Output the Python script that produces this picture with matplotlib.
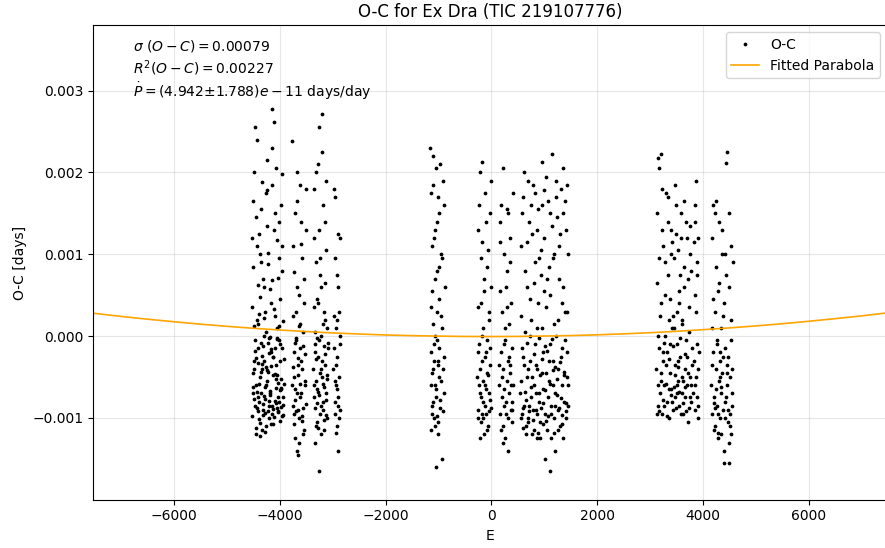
import numpy as np
import matplotlib
matplotlib.use('Agg')
import matplotlib.pyplot as plt

# O-C points, grouped by observing block
# each entry: (epoch E, O-C in units of 1e-5 days)
BLOCK_1 = [
    (-4512, -62), (-4488, 12), (-4463, -85), (-4441, 145), (-4420, -33), (-4397, -101), (-4375, 48), (-4352, -70), (-4330, 188), (-4308, -12),
    (-4285, -94), (-4262, 5), (-4240, -55), (-4218, 102), (-4195, -79), (-4172, -20), (-4150, 230), (-4128, -108), (-4106, 33), (-4083, -46),
    (-4061, -88), (-4038, 71), (-4016, -5), (-3994, -66), (-3972, 160), (-3950, -98), (-3928, -28), (-4505, 85), (-4481, -40), (-4458, -112),
    (-4436, 20), (-4413, -74), (-4390, 125), (-4368, -50), (-4345, -9), (-4323, -90), (-4300, 60), (-4278, -117), (-4256, -38), (-4233, 178),
    (-4210, -2), (-4188, -69), (-4165, 40), (-4143, -95), (-4121, -25), (-4098, 150), (-4076, -82), (-4054, 10), (-4031, -57), (-4009, 95),
    (-3987, -104), (-3965, -15), (-3943, -75), (-4524, -98), (-4499, 165), (-4476, -18), (-4452, -60), (-4430, 110), (-4407, -92), (-4385, 27),
    (-4362, -44), (-4340, -115), (-4317, 70), (-4295, -30), (-4272, -77), (-4250, 215), (-4227, -8), (-4205, -100), (-4182, 58), (-4160, -36),
    (-4137, -86), (-4115, 130), (-4092, -14), (-4070, -64), (-4048, -4), (-4025, -93), (-4003, 45), (-3981, -52), (-3959, 198), (-3937, -84),
    (-4518, 35), (-4494, -77), (-4470, 255), (-4447, -27), (-4425, -68), (-4402, 15), (-4380, -106), (-4357, 90), (-4335, -40), (-4312, -83),
    (-4290, 0), (-4267, -60), (-4245, 135), (-4222, -91), (-4200, -21), (-4177, -72), (-4155, 278), (-4132, -47), (-4110, -99), (-4087, 25),
    (-4065, -35), (-4043, 118), (-4020, -80), (-3998, -10), (-3976, -63), (-3954, 80), (-3932, -96), (-4509, -45), (-4485, 200), (-4460, -5),
    (-4438, -88), (-4416, 62), (-4393, -58), (-4371, -122), (-4348, 155), (-4326, -24), (-4303, -73), (-4281, 30), (-4258, -110), (-4236, -42),
    (-4213, 88), (-4191, -67), (-4168, -16), (-4146, 185), (-4124, -89), (-4101, 262), (-4079, -53), (-4057, -2), (-4034, -75), (-4012, 140),
    (-3990, -30), (-3968, -87), (-3946, 18), (-3925, -59), (-4527, 120), (-4502, -70), (-4479, -30), (-4455, -120), (-4433, 240), (-4410, -15),
    (-4388, -81), (-4365, 100), (-4343, -34), (-4320, -97), (-4298, 22), (-4275, -62), (-4253, 175), (-4230, -44), (-4208, -85), (-4186, -1),
    (-4163, -107), (-4141, 68), (-4119, -26), (-4096, -79), (-4074, 205), (-4052, -48), (-4029, -92), (-4007, 12), (-3985, -65), (-3963, 110),
]
BLOCK_2 = [
    (-3765, -60), (-3752, 25), (-3740, -95), (-3728, -20), (-3716, 150), (-3703, -78), (-3691, -5), (-3679, -140), (-3667, 60), (-3655, -48),
    (-3642, -100), (-3630, 12), (-3618, 185), (-3606, -70), (-3594, -30), (-3581, 95), (-3569, -88), (-3557, -12), (-3545, -115), (-3533, 40),
    (-3520, -55), (-3508, 130), (-3496, -83), (-3760, 238), (-3747, -38), (-3735, -108), (-3722, 78), (-3710, -65), (-3698, -2), (-3686, -92),
    (-3674, 165), (-3661, -27), (-3649, -145), (-3637, 50), (-3625, -75), (-3613, -15), (-3600, 112), (-3588, -98), (-3576, -40), (-3564, 5),
    (-3552, -120), (-3539, 70), (-3527, -60), (-3515, -22), (-3503, 180), (-3757, -85), (-3744, 110), (-3732, -50), (-3719, -9), (-3707, -125),
    (-3695, 30), (-3683, -70), (-3670, 200), (-3658, -35), (-3646, -90), (-3634, -130), (-3621, 15), (-3609, -58), (-3597, 140), (-3584, -104),
]
BLOCK_3 = [
    (-3365, -40), (-3353, 120), (-3341, -88), (-3329, -10), (-3317, -110), (-3305, 45), (-3293, -65), (-3281, 210), (-3269, -25), (-3257, -165),
    (-3245, 75), (-3233, -95), (-3221, 0), (-3209, -50), (-3197, 272), (-3185, -80), (-3173, 30), (-3161, -115), (-3149, 140), (-3137, -35),
    (-3125, -70), (-3113, 10), (-3101, -100), (-3360, -75), (-3348, 180), (-3336, -20), (-3324, -55), (-3312, 90), (-3300, -105), (-3288, -2),
    (-3276, -68), (-3264, 130), (-3252, 255), (-3240, -45), (-3228, -120), (-3216, 60), (-3204, -30), (-3192, -90), (-3180, 160), (-3168, -12),
    (-3156, -62), (-3144, 20), (-3132, -97), (-3120, 105), (-3108, -48), (-3096, -8), (-3357, 35), (-3345, -60), (-3333, -130), (-3321, 200),
    (-3309, -28), (-3297, -82), (-3285, 40), (-3273, -112), (-3261, -5), (-3249, -72), (-3237, 95), (-3225, -40), (-3213, -85), (-3201, 225),
    (-3189, 15), (-3177, -58), (-3165, -102), (-3153, 65), (-3141, -22), (-3129, -78), (-3117, 190), (-3105, -52), (-3093, -15), (-3340, 5),
]
BLOCK_4 = [
    (-2985, -40), (-2975, 25), (-2965, -95), (-2955, 170), (-2945, -60), (-2935, 10), (-2925, -110), (-2915, -25), (-2905, 125), (-2895, -75),
    (-2885, 30), (-2875, -50), (-2865, -90), (-2855, 0), (-2980, 180), (-2970, -15), (-2960, -80), (-2950, 95), (-2940, -118), (-2930, -35),
    (-2920, 20), (-2910, -65), (-2900, -140), (-2890, 60), (-2880, -100), (-2870, -10), (-2860, 120), (-2950, -55), (-2920, 75), (-2890, -85),
]
BLOCK_5 = [
    (-1155, 230), (-1143, -60), (-1131, 110), (-1119, -95), (-1107, 15), (-1095, 185), (-1083, -30), (-1071, -110), (-1059, 70), (-1047, -75),
    (-1035, 140), (-1023, -5), (-1011, -120), (-999, 45), (-987, -50), (-975, 210), (-963, -88), (-951, 25), (-939, -150), (-927, 95),
    (-915, -40), (-903, 160), (-891, -70), (-1150, -20), (-1138, 175), (-1126, -85), (-1114, 55), (-1102, -40), (-1090, 120), (-1078, -100),
    (-1066, 0), (-1054, 205), (-1042, -65), (-1030, 80), (-1018, -30), (-1006, -105), (-994, 150), (-982, -15), (-970, -78), (-958, 100),
    (-946, -55), (-934, 10), (-922, -92), (-910, 190), (-898, -25), (-886, 60), (-1145, -115), (-1133, 35), (-1121, -45), (-1109, 220),
    (-1097, -80), (-1085, -10), (-1073, 130), (-1061, -60), (-1049, -160), (-1037, 30), (-1025, -98), (-1013, 170), (-1001, -35), (-989, 85),
]
BLOCK_6 = [
    (-265, -50), (-255, 130), (-245, -90), (-235, -10), (-225, 200), (-215, -70), (-205, 40), (-195, -105), (-185, -30), (-175, 115),
    (-165, -80), (-155, 10), (-145, -120), (-135, 55), (-125, -60), (-115, 175), (-105, -20), (-95, -95), (-85, 85), (-75, -45),
    (-65, -110), (-55, 20), (-45, -70), (-35, 150), (-25, -35), (-15, -88), (-5, 60), (-260, -100), (-250, 35), (-240, -60),
    (-230, 160), (-220, -40), (-210, -125), (-200, 95), (-190, -75), (-180, 0), (-170, 213), (-160, -55), (-150, -100), (-140, 70),
    (-130, -25), (-120, -85), (-110, 140), (-100, -65), (-90, -5), (-80, -115), (-70, 105), (-60, -48), (-50, -92), (-40, 30),
    (-30, -15), (-20, -78), (-10, 190), (-255, -20), (-180, -95),
]
BLOCK_7 = [
    (145, -60), (155, 140), (165, -95), (175, -20), (185, 160), (195, -75), (205, 30), (215, -110), (225, -40), (235, 100),
    (245, -85), (255, -5), (265, -125), (275, 60), (285, -55), (295, 155), (305, -30), (315, -100), (325, 15), (335, -70),
    (345, 120), (355, -45), (365, -90), (375, 40), (385, -15), (395, -80), (405, 175), (150, -35), (170, 55), (190, -115),
    (210, 205), (230, -65), (250, 10), (270, -95), (290, 80), (310, -140), (330, -25), (350, 90), (370, -60), (390, -105),
    (160, 115), (200, -50), (240, -10), (280, -80), (320, 150), (360, -35), (400, -60), (220, -130), (300, 35), (380, -90),
]
BLOCK_8 = [
    (545, -70), (560, 110), (575, -95), (590, -25), (605, 170), (620, -85), (635, 5), (650, -110), (665, 60), (680, -50),
    (695, -100), (710, 140), (725, -30), (740, -75), (755, 20), (770, -120), (785, 185), (800, -60), (815, -10), (830, 90),
    (845, -90), (860, -40), (875, 155), (890, -80), (905, -2), (920, -105), (935, 75), (950, 213), (965, -65), (980, -20),
    (995, 120), (1010, -95), (1025, -45), (1040, 35), (1055, -115), (1070, 165), (1085, -55), (1100, -165), (1115, 50), (1130, -85),
    (1145, 222), (1160, -30), (1175, -100), (1190, 100), (1205, -70), (1220, 0), (1235, 145), (1250, -90), (1265, -40), (1280, 70),
    (1295, -110), (1310, 180), (1325, -60), (1340, -15), (1355, 205), (1370, -80), (1385, 30), (1400, -100), (1415, 130), (1430, -50),
    (1445, -85), (550, 25), (568, -55), (586, 150), (604, -112), (622, -35), (640, 80), (658, -78), (676, -8), (694, 190),
    (712, -92), (730, 45), (748, -62), (766, 125), (784, -102), (802, -22), (820, 175), (838, -70), (856, 10), (874, -118),
    (892, 95), (910, -48), (928, -88), (946, 160), (964, -28), (982, -108), (1000, 55), (1018, -66), (1036, 195), (1054, -18),
    (1072, -98), (1090, 85), (1108, -58), (1126, -125), (1144, 135), (1162, -42), (1180, 15), (1198, -86), (1216, 170), (1234, -52),
    (1252, -115), (1270, 110), (1288, -32), (1306, -76), (1324, 40), (1342, -96), (1360, 150), (1378, -44), (1396, -5), (1414, -82),
    (1432, 185), (1448, -60), (555, -100), (580, -15), (612, 200), (630, -68), (648, -120), (670, 115), (688, -40), (705, -85),
    (722, 0), (745, 160), (762, -50), (778, -90), (795, 65), (812, -115), (835, -35), (852, 130), (870, -95), (885, 40),
    (900, -70), (918, -125), (940, 105), (958, -45), (975, -82), (992, 178), (1008, -12), (1030, -104), (1048, 70), (1065, -75),
    (1082, -30), (1098, 150), (1120, -95), (1138, -3), (1155, -60), (1172, 95), (1190, -118), (1210, -38), (1228, 190), (1245, -72),
    (1262, 20), (1282, -88), (1300, 125), (1318, -26), (1335, -108), (1352, 60), (1368, -48), (1390, 165), (1408, -92), (1425, -20),
    (1440, 100), (1200, -140), (1020, -150), (860, -125), (700, -105), (1350, -125), (1420, 30), (600, -88), (1110, -10), (960, 10),
]
BLOCK_9 = [
    (3115, -40), (3130, 150), (3145, -85), (3160, -15), (3175, 205), (3190, -70), (3205, 40), (3220, -95), (3235, -30), (3250, 110),
    (3265, -60), (3280, 0), (3295, 175), (3310, -80), (3325, -20), (3340, 75), (3355, -100), (3370, -45), (3385, 130), (3400, -65),
    (3415, 10), (3430, -90), (3445, 95), (3460, -35), (3475, -75), (3490, 160), (3505, -10), (3520, -55), (3535, 55), (3550, -85),
    (3565, -25), (3580, 120), (3595, -70), (3610, 20), (3625, -95), (3640, 85), (3655, -40), (3670, -5), (3685, 140), (3700, -60),
    (3715, -105), (3730, 35), (3745, -50), (3760, 100), (3775, -80), (3790, -15), (3120, 65), (3138, -60), (3156, 218), (3174, -92),
    (3192, 25), (3210, -45), (3228, 130), (3246, -78), (3264, -8), (3282, 90), (3300, -58), (3318, -98), (3336, 170), (3354, -28),
    (3372, 45), (3390, -72), (3408, 115), (3426, -12), (3444, -62), (3462, 185), (3480, -88), (3498, 30), (3516, -38), (3534, 105),
    (3552, -68), (3570, -2), (3588, 150), (3606, -50), (3624, -82), (3642, 60), (3660, -22), (3678, -92), (3696, 120), (3714, -45),
    (3732, 5), (3750, -75), (3768, 80), (3786, -35), (3125, -95), (3150, 0), (3170, 95), (3195, -55), (3215, 180), (3240, -20),
    (3260, -85), (3285, 50), (3305, -35), (3330, 140), (3350, -65), (3375, -10), (3395, 100), (3420, -80), (3440, 25), (3465, -48),
    (3485, 125), (3510, -70), (3530, -30), (3555, 75), (3575, -95), (3600, 15), (3620, -55), (3645, 165), (3665, -75), (3690, -25),
    (3710, 70), (3735, -88), (3755, 135), (3780, -60), (3200, 222), (3500, -60), (3450, 10), (3350, 20), (3650, -62), (3550, 40),
    (3815, -70), (3822, 115), (3830, -30), (3837, 160), (3845, -90), (3852, 50), (3860, -50), (3867, 190), (3875, -10), (3882, -75),
    (3890, 90), (3897, -40), (3905, -100), (3912, 120), (3918, -20), (3840, -60), (3870, 30), (3900, -85), (3850, 140), (3880, 75),
]
BLOCK_10 = [
    (4155, -60), (4165, 120), (4175, -95), (4185, -20), (4195, 160), (4205, -75), (4215, 30), (4225, -110), (4235, -40), (4245, 85),
    (4255, -85), (4265, -5), (4275, -125), (4285, 55), (4295, -55), (4305, 140), (4315, -30), (4325, -100), (4335, 10), (4345, -70),
    (4355, 100), (4365, -45), (4375, -90), (4385, 40), (4395, -140), (4405, -15), (4415, -80), (4425, 75), (4435, 212), (4445, -60),
    (4455, 225), (4465, -105), (4475, -25), (4485, -155), (4495, 150), (4505, -50), (4515, -95), (4525, 20), (4535, -120), (4545, -70),
    (4555, 90), (4160, -35), (4180, 45), (4200, -115), (4220, 150), (4240, -65), (4260, -10), (4280, -95), (4300, 65), (4320, -50),
    (4340, -120), (4360, 130), (4380, -25), (4400, -155), (4420, 100), (4440, -75), (4460, -35), (4480, 60), (4500, -110), (4520, -5),
    (4540, -85), (4170, 10), (4210, -82), (4250, 165), (4290, -118), (4330, -62), (4370, 25), (4410, -100), (4450, -45), (4490, -130),
    (4530, 110), (4550, -40), (4230, -88), (4310, -20), (4470, -90),
]

# fitted parabola (O-C in 1e-5 days)
FIT_E = [-7550, -7000, -6500, -6000, -5500, -5000, -4500, -4000, -3500, -3000, -2500, -2000,
         -1500, -1000, -500, 0, 500, 1000, 1500, 2000, 2500, 3000, 3500, 4000, 4500, 5000,
         5500, 6000, 6500, 7000, 7500]
FIT_OC = [28.2, 24.1, 20.7, 17.6, 14.6, 12.0, 9.6, 7.5, 5.6, 3.9, 2.6, 1.4,
          0.6, 0.0, -0.4, -0.5, -0.35, 0.1, 0.7, 1.6, 2.8, 4.2, 5.9, 7.9, 10.1, 12.5,
          15.2, 18.2, 21.4, 24.8, 28.6]

STATS_LINES = ['$\\sigma\\ (O-C) = 0.00079$',
               '$R^2(O-C) = 0.00227$',
               '$\\dot{P} = (4.942±1.788)e-11$ days/day']

blocks = [BLOCK_1, BLOCK_2, BLOCK_3, BLOCK_4, BLOCK_5,
          BLOCK_6, BLOCK_7, BLOCK_8, BLOCK_9, BLOCK_10]
pts = np.array([p for b in blocks for p in b], dtype=float)
E = pts[:, 0]
OC = pts[:, 1] * 1e-5

fig, ax = plt.subplots(figsize=(8.85, 5.48), dpi=100)
# right edge of the axes sits just past the picture border, as in the original
fig.subplots_adjust(left=0.105, right=1.0023, top=0.954, bottom=0.088)

ax.plot(E, OC, 'o', color='black', markersize=1.7, linestyle='none', label='O-C')
ax.plot(FIT_E, np.array(FIT_OC) * 1e-5, color='orange', linewidth=1.2, label='Fitted Parabola')

ax.set_xlim(-7530, 7475)
ax.set_ylim(-0.002, 0.0038)
ax.set_yticks([-0.001, 0.0, 0.001, 0.002, 0.003])
ax.grid(True, alpha=0.3)

ax.set_xlabel('E')
ax.set_ylabel('O-C [days]')
ax.set_title('O-C for Ex Dra (TIC 219107776)', fontsize=12)

for line, ypos in zip(STATS_LINES, [0.947, 0.898, 0.848]):
    ax.text(0.05, ypos, line, transform=ax.transAxes, va='baseline', ha='left', fontsize=10)
ax.legend(loc='upper right', fontsize=10)

fig.savefig('out.png', dpi=100)
